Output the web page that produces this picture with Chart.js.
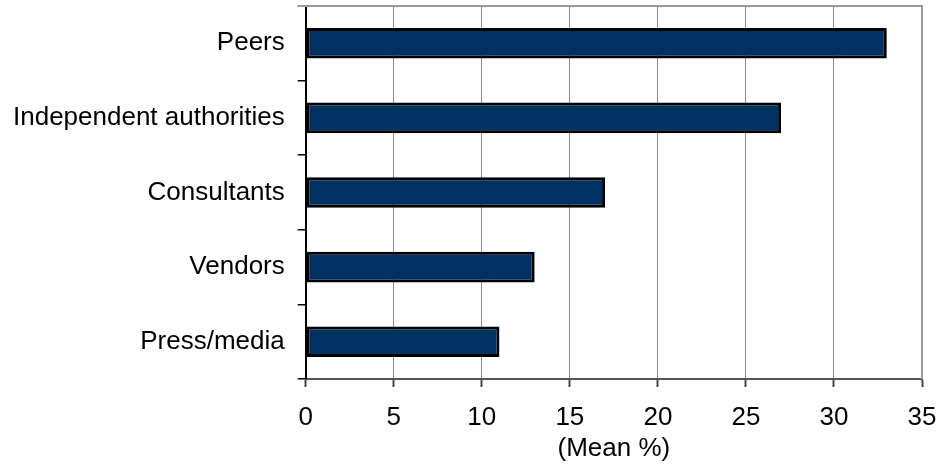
<!DOCTYPE html>
<html>
<head>
<meta charset="utf-8">
<script src="https://cdn.jsdelivr.net/npm/chart.js@4/dist/chart.umd.min.js"></script>
<style>
html,body{margin:0;padding:0;background:#fff;}
#wrap{width:938px;height:467px;position:relative;}
</style>
</head>
<body>
<div id="wrap"><canvas id="c"></canvas></div>
<script>
const categories = ["Peers", "Independent authorities", "Consultants", "Vendors", "Press/media"];
const meanValues = [33, 27, 17, 13, 11];
const axisMin = 0, axisMax = 35, axisStep = 5;
const axisTitle = "(Mean %)";

const frame = {
  id: 'frame',
  afterDatasetsDraw(chart) {
    const a = chart.chartArea, ctx = chart.ctx;
    ctx.save();
    ctx.strokeStyle = '#9a9a9a';
    ctx.lineWidth = 2;
    ctx.beginPath();
    ctx.moveTo(a.left - 8, a.top);
    ctx.lineTo(a.right, a.top);
    ctx.lineTo(a.right, a.bottom);
    ctx.stroke();
    ctx.restore();
  }
};

Chart.defaults.font.family = '"Liberation Sans", Arial, sans-serif';
Chart.defaults.color = '#000';

new Chart(document.getElementById('c'), {
  type: 'bar',
  data: {
    labels: categories,
    datasets: [{
      data: meanValues,
      backgroundColor: '#003163',
      borderColor: '#000',
      borderWidth: 3,
      borderSkipped: false,
      barPercentage: 0.41,
      categoryPercentage: 1
    }]
  },
  options: {
    indexAxis: 'y',
    responsive: true,
    maintainAspectRatio: false,
    animation: false,
    layout: { padding: { left: 0, right: 16, top: 6, bottom: 3 } },
    plugins: { legend: { display: false }, tooltip: { enabled: false } },
    scales: {
      x: {
        min: axisMin, max: axisMax,
        ticks: { stepSize: axisStep, font: { size: 26 }, padding: 15, color: '#000' },
        grid: { color: '#8c8c8c', lineWidth: 1, tickLength: 8, tickColor: '#444', tickWidth: 2 },
        border: { color: '#555', width: 2 },
        title: { display: true, text: axisTitle, font: { size: 26 }, color: '#000', padding: { top: 0, bottom: 0 } },
        afterFit(scale) { scale.paddingLeft = 0; scale.paddingRight = 0; scale.height = 85; }
      },
      y: {
        offset: true,
        ticks: { font: { size: 26 }, padding: 13, color: '#000' },
        grid: { offset: true, drawOnChartArea: false, tickLength: 8, color: '#000', lineWidth: 1.5 },
        border: { color: '#000', width: 2 },
        afterFit(scale) { scale.paddingTop = 0; scale.paddingBottom = 0; }
      }
    }
  },
  plugins: [frame]
});
</script>
</body>
</html>
